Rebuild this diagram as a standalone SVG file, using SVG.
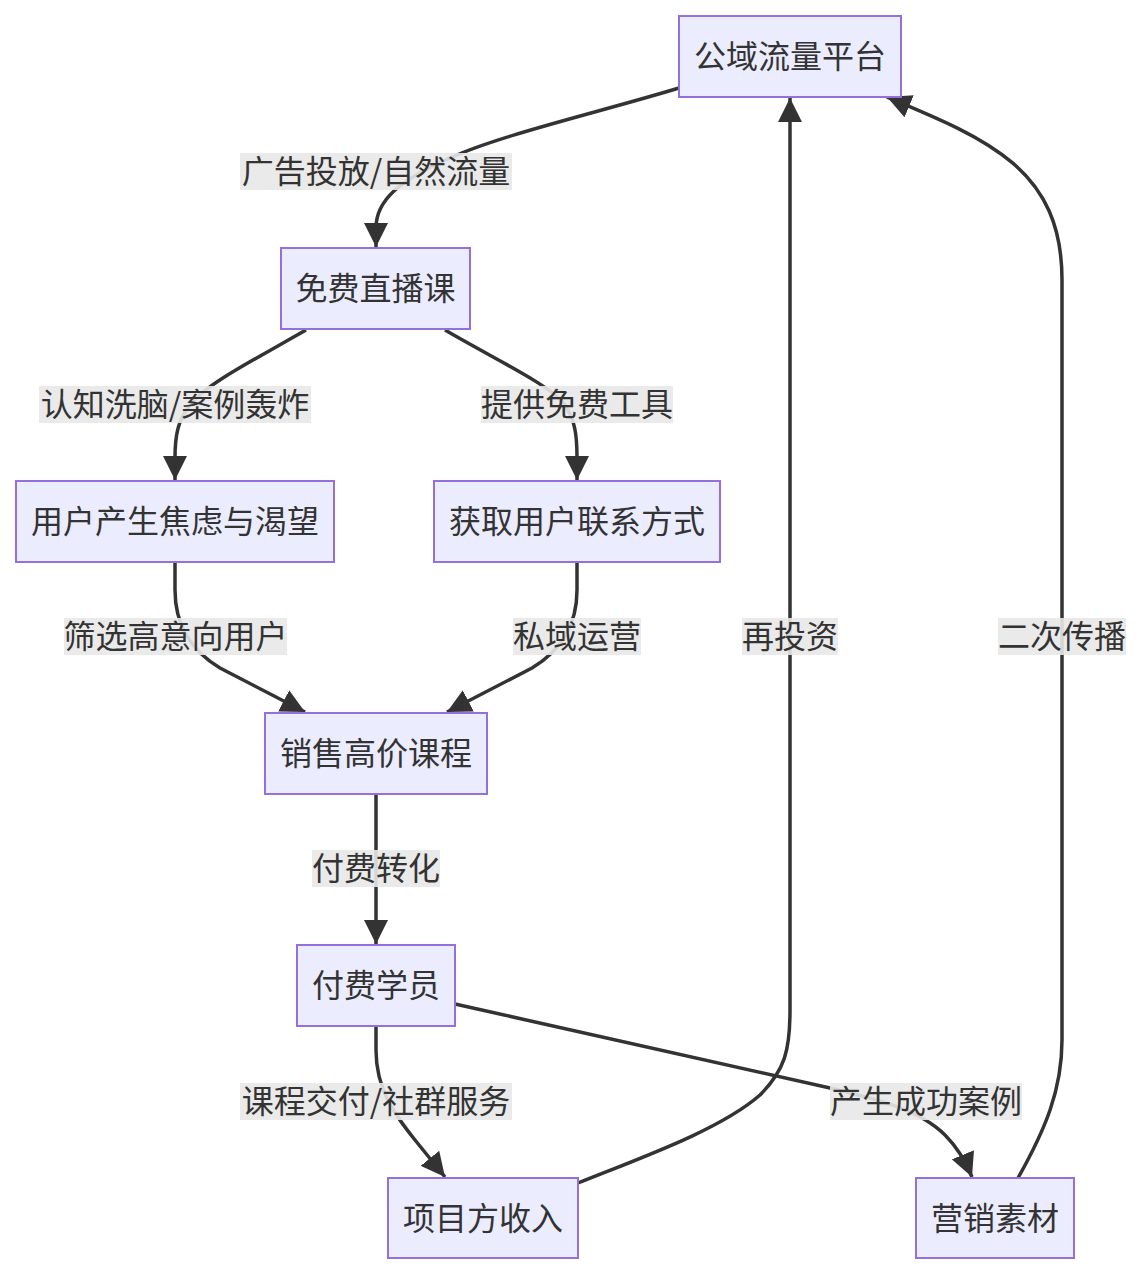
<svg xmlns="http://www.w3.org/2000/svg" width="1144" height="1276" viewBox="0 0 1144 1276">
<defs>
<marker id="arr" viewBox="0 0 10 10" refX="10" refY="5" markerUnits="userSpaceOnUse" markerWidth="24" markerHeight="24" orient="auto">
<path d="M0,0 L10,5 L0,10 z" fill="#333"/>
</marker>
<style>
.node rect{fill:#ECECFF;stroke:#9370DB;stroke-width:2}
text{font-family:"Noto Sans CJK SC","Noto Sans",sans-serif;font-size:32px;fill:#333;text-anchor:middle;dominant-baseline:central}
.edge{fill:none;stroke:#333;stroke-width:3.5;marker-end:url(#arr)}
.lbl rect{fill:#e8e8e8;fill-opacity:0.9}
</style>
</defs>
<rect width="1144" height="1276" fill="#fff"/>
<g id="edges">
<path class="edge" d="M679,88 C600,112 500,135 450,158 C400,180 376,200 376,228 L376,247"/>
<path class="edge" d="M306,330 C250,362 205,385 190,405 C178,420 175,435 175,458 L175,480"/>
<path class="edge" d="M445,330 C500,362 550,385 565,405 C575,420 577,435 577,458 L577,480"/>
<path class="edge" d="M175,562 L175,590 C175,625 190,650 220,668 L305,712"/>
<path class="edge" d="M577,562 L577,590 C577,625 562,650 532,668 L447,712"/>
<path class="edge" d="M376,794 L376,944"/>
<path class="edge" d="M376,1026 L376,1050 C376,1090 395,1115 415,1140 L445,1177"/>
<path class="edge" d="M455,1004 L830,1088 C880,1100 920,1110 945,1135 C958,1148 965,1160 972,1177"/>
<path class="edge" d="M578,1183 C640,1158 720,1130 760,1095 C785,1070 790,1050 790,1010 L790,98"/>
<path class="edge" d="M1018,1178 C1045,1130 1062,1090 1062,1040 L1062,280 C1062,170 990,140 887,97"/>
</g>
<g id="edge-labels">
<g class="lbl"><rect x="240" y="153" width="272" height="37"/><text x="376" y="169">广告投放/自然流量</text></g>
<g class="lbl"><rect x="39" y="386" width="272" height="37"/><text x="175" y="402">认知洗脑/案例轰炸</text></g>
<g class="lbl"><rect x="481" y="386" width="192" height="37"/><text x="577" y="402">提供免费工具</text></g>
<g class="lbl"><rect x="64" y="618" width="223" height="37"/><text x="175.5" y="634">筛选高意向用户</text></g>
<g class="lbl"><rect x="513" y="618" width="128" height="37"/><text x="577" y="634">私域运营</text></g>
<g class="lbl"><rect x="742" y="618" width="96" height="37"/><text x="790" y="634">再投资</text></g>
<g class="lbl"><rect x="998" y="618" width="128" height="37"/><text x="1062" y="634">二次传播</text></g>
<g class="lbl"><rect x="312" y="850" width="128" height="37"/><text x="376" y="866">付费转化</text></g>
<g class="lbl"><rect x="240" y="1083" width="272" height="37"/><text x="376" y="1099">课程交付/社群服务</text></g>
<g class="lbl"><rect x="830" y="1083" width="192" height="37"/><text x="926" y="1099">产生成功案例</text></g>
</g>
<g id="A" class="node"><rect x="679" y="16" width="222" height="81"/><text x="790" y="54">公域流量平台</text></g>
<g id="B" class="node"><rect x="281" y="248" width="189" height="81"/><text x="375.5" y="286">免费直播课</text></g>
<g id="C" class="node"><rect x="16" y="481" width="318" height="81"/><text x="175" y="519">用户产生焦虑与渴望</text></g>
<g id="D" class="node"><rect x="434" y="481" width="286" height="81"/><text x="577" y="519">获取用户联系方式</text></g>
<g id="E" class="node"><rect x="265" y="713" width="222" height="81"/><text x="376" y="751">销售高价课程</text></g>
<g id="F" class="node"><rect x="297" y="945" width="158" height="81"/><text x="376" y="983">付费学员</text></g>
<g id="G" class="node"><rect x="388" y="1178" width="190" height="80"/><text x="483" y="1216">项目方收入</text></g>
<g id="H" class="node"><rect x="916" y="1178" width="158" height="80"/><text x="995" y="1216">营销素材</text></g>
</svg>
